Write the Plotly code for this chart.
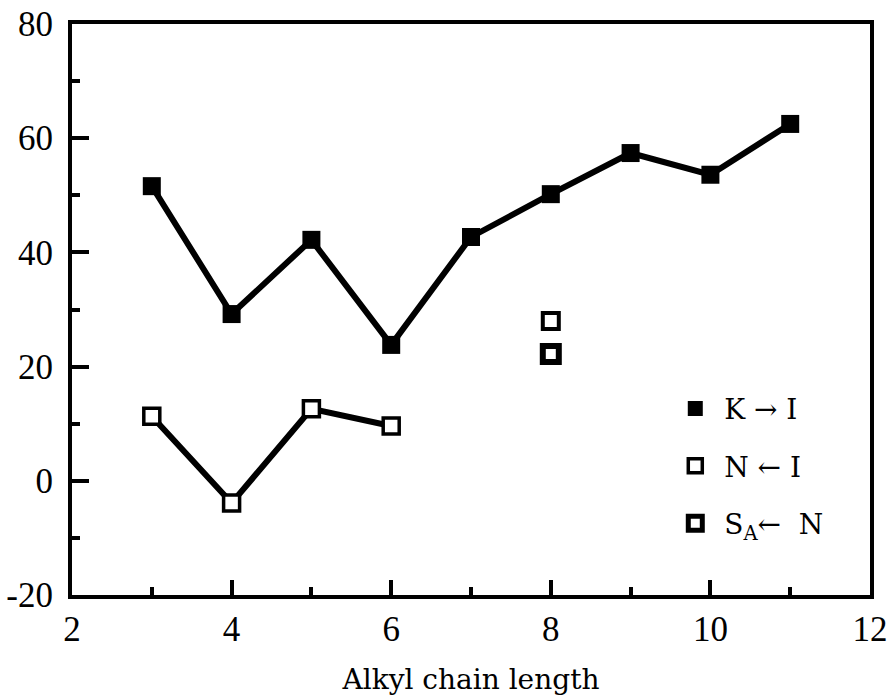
import plotly.graph_objects as go

chain = [3, 4, 5, 6, 7, 8, 9, 10, 11]
k_to_i = [51.6, 29.2, 42.2, 23.8, 42.7, 50.2, 57.4, 53.6, 62.5]

chain_n = [3, 4, 5, 6]
n_from_i = [11.3, -3.9, 12.6, 9.6]

chain_n8 = [8]
n_from_i_8 = [28.0]

chain_sa = [8]
sa_from_n = [22.2]

x_ticks = [2, 4, 6, 8, 10, 12]
x_tick_labels = ["2", "4", "6", "8", "10", "12"]
y_ticks = [-20, 0, 20, 40, 60, 80]
y_tick_labels = ["-20", "0", "20", "40", "60", "80"]

FONT = "DejaVu Serif"
TICKFONT = "Liberation Serif"

fig = go.Figure()

fig.add_trace(go.Scatter(x=chain, y=k_to_i, mode="lines+markers",
                         line=dict(color="black", width=6),
                         marker=dict(symbol="square", size=18, color="black"),
                         showlegend=False))
fig.add_trace(go.Scatter(x=chain_n, y=n_from_i, mode="lines+markers",
                         line=dict(color="black", width=6),
                         marker=dict(symbol="square", size=16, color="white",
                                     line=dict(color="black", width=3.5)),
                         showlegend=False))
fig.add_trace(go.Scatter(x=chain_n8, y=n_from_i_8, mode="markers",
                         marker=dict(symbol="square", size=16, color="white",
                                     line=dict(color="black", width=4)),
                         showlegend=False))
fig.add_trace(go.Scatter(x=chain_sa, y=sa_from_n, mode="markers",
                         marker=dict(symbol="square", size=16, color="white",
                                     line=dict(color="black", width=6)),
                         showlegend=False))

# legend entries (markers only)
fig.add_trace(go.Scatter(x=[None], y=[None], mode="markers", name="\u00a0K \u2192 I",
                         legendgroup="a",
                         marker=dict(symbol="square", size=15, color="black")))
fig.add_trace(go.Scatter(x=[None], y=[None], mode="markers", name="\u00a0N \u2190 I",
                         legendgroup="b",
                         marker=dict(symbol="square", size=14, color="white",
                                     line=dict(color="black", width=3.5))))
fig.add_trace(go.Scatter(x=[None], y=[None], mode="markers", name="\u00a0S<sub>A</sub>\u2190  N",
                         legendgroup="c",
                         marker=dict(symbol="square", size=14, color="white",
                                     line=dict(color="black", width=5))))

fig.update_layout(
    width=890, height=696,
    margin=dict(l=72, r=20, t=24, b=101, autoexpand=False),
    plot_bgcolor="white", paper_bgcolor="white",
    font=dict(family=FONT, color="black", size=30),
    legend=dict(x=0.756, y=0.37, xanchor="left", yanchor="top",
                bgcolor="rgba(0,0,0,0)", font=dict(family=FONT, size=28),
                tracegroupgap=18),
)

fig.update_xaxes(range=[2, 12], tickmode="array", tickvals=x_ticks, ticktext=x_tick_labels,
                 showline=True, linewidth=4, linecolor="black", mirror=True,
                 ticks="inside", ticklen=15, tickwidth=4, tickcolor="black",
                 minor=dict(dtick=1, ticks="inside", ticklen=8, tickwidth=4, tickcolor="black"),
                 showgrid=False, zeroline=False, automargin=False,
                 ticklabeloverflow="allow",
                 tickfont=dict(size=35, family=TICKFONT), ticklabelstandoff=0,
                 title=dict(text="Alkyl chain length", font=dict(size=28), standoff=28))
fig.update_yaxes(range=[-20, 80], tickmode="array", tickvals=y_ticks, ticktext=y_tick_labels,
                 showline=True, linewidth=4, linecolor="black", mirror=True,
                 ticks="inside", ticklen=17, tickwidth=4, tickcolor="black",
                 minor=dict(dtick=10, ticks="inside", ticklen=8, tickwidth=4, tickcolor="black"),
                 showgrid=False, zeroline=False, automargin=False,
                 ticklabeloverflow="allow",
                 tickfont=dict(size=35, family=TICKFONT), ticklabelstandoff=8)

fig.write_html("out.html", config={"displayModeBar": False},
               post_script="document.body.style.margin='0';")
